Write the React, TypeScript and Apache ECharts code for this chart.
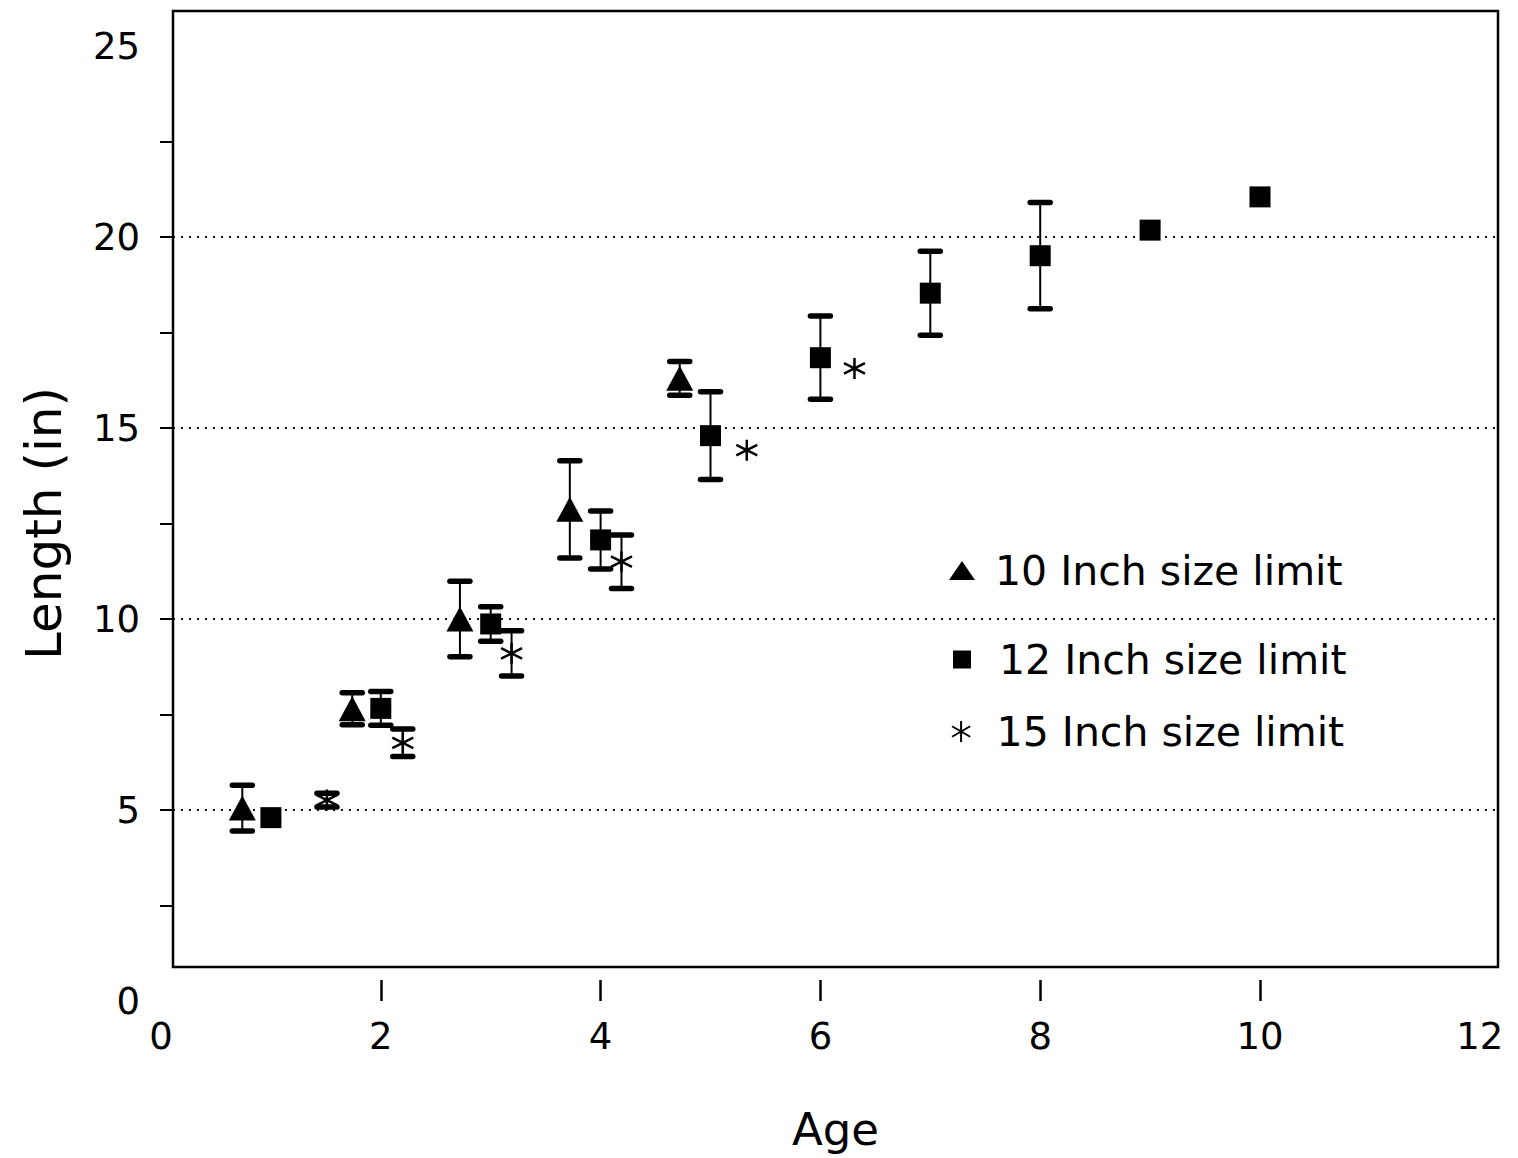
import React, { useEffect, useRef } from "react";
import * as echarts from "echarts";

// ---- data ----
const AGE_10 = [0.74, 1.74, 2.72, 3.72, 4.72];
const LEN_10 = [5.05, 7.65, 10.0, 12.87, 16.3];
const ERR_10 = [0.6, 0.42, 0.99, 1.27, 0.44];

const AGE_12 = [1, 2, 3, 4, 5, 6, 7, 8, 9, 10];
const LEN_12 = [4.8, 7.66, 9.87, 12.07, 14.8, 16.84, 18.53, 19.51, 20.18, 21.05];
const ERR_12 = [0, 0.44, 0.45, 0.76, 1.15, 1.09, 1.1, 1.39, 0, 0];

const AGE_15 = [1.51, 2.2, 3.19, 4.19, 5.33, 6.31];
const LEN_15 = [5.26, 6.76, 9.1, 11.5, 14.42, 16.56];
const ERR_15 = [0.18, 0.36, 0.59, 0.7, 0, 0];

const SERIES_NAMES = ["10 Inch size limit", "12 Inch size limit", "15 Inch size limit"];
const X_TICK_MARKS = [2, 4, 6, 8, 10];
const Y_TICK_MARKS = [2.5, 5, 7.5, 10, 12.5, 15, 17.5, 20, 22.5];
const GRID_LINES = [5, 10, 15, 20];

// ---- layout ----
const W = 1518;
const H = 1158;
const PX_X0 = 161;
const PX_PER_X = 109.9;
const PX_Y0 = 1001;
const PX_PER_Y = 38.2;
const FRAME = { left: 173, right: 1498, top: 11, bottom: 967 };

const FONT = "DejaVu Sans";
const ASTERISK = "path://M0,-10L0,10M-8.66,-5L8.66,5M-8.66,5L8.66,-5";

function errData(xs: number[], ys: number[], es: number[]) {
  const out: number[][] = [];
  xs.forEach((x, i) => {
    if (es[i] > 0) out.push([x, ys[i] - es[i], ys[i] + es[i]]);
  });
  return out;
}

function errSeries(data: number[][]) {
  return {
    type: "custom",
    xAxisIndex: 0,
    yAxisIndex: 0,
    silent: true,
    z: 2,
    data,
    renderItem: (_p: any, api: any) => {
      const x = api.value(0);
      const top = api.coord([x, api.value(2)]);
      const bot = api.coord([x, api.value(1)]);
      const hw = 10;
      return {
        type: "group",
        children: [
          { type: "line", shape: { x1: top[0], y1: top[1], x2: bot[0], y2: bot[1] }, style: { stroke: "#000", lineWidth: 2 } },
          { type: "line", shape: { x1: top[0] - hw, y1: top[1], x2: top[0] + hw, y2: top[1] }, style: { stroke: "#000", lineWidth: 5.5, lineCap: "round" } },
          { type: "line", shape: { x1: bot[0] - hw, y1: bot[1], x2: bot[0] + hw, y2: bot[1] }, style: { stroke: "#000", lineWidth: 5.5, lineCap: "round" } },
        ],
      };
    },
  };
}

export default function App() {
  const ref = useRef<HTMLDivElement>(null);

  useEffect(() => {
    if (!ref.current) return;
    const chart = echarts.init(ref.current, undefined, { renderer: "svg" });

    const g1 = {
      left: FRAME.left,
      top: FRAME.top,
      width: FRAME.right - FRAME.left,
      height: FRAME.bottom - FRAME.top,
    };
    const g2 = {
      left: PX_X0,
      top: PX_Y0 - 25 * PX_PER_Y,
      width: 12 * PX_PER_X,
      height: 25 * PX_PER_Y,
    };

    const legendText = (pad: number) => ({
      fontFamily: FONT,
      fontSize: 41,
      color: "#000",
      padding: [0, 0, 0, pad],
    });

    const option: any = {
      animation: false,
      backgroundColor: "#fff",
      textStyle: { fontFamily: FONT, color: "#000" },
      grid: [
        { ...g1, show: true, borderColor: "#000", borderWidth: 2.5, backgroundColor: "transparent", containLabel: false },
        { ...g2, show: false, containLabel: false },
      ],
      xAxis: [
        {
          type: "value",
          gridIndex: 0,
          min: (FRAME.left - PX_X0) / PX_PER_X,
          max: (FRAME.right - PX_X0) / PX_PER_X,
          axisLine: { show: false },
          axisTick: { show: false },
          axisLabel: { show: false },
          splitLine: { show: false },
          name: "Age",
          nameLocation: "middle",
          nameGap: 140,
          nameTextStyle: { fontFamily: FONT, fontSize: 45, color: "#000" },
        },
        {
          type: "value",
          gridIndex: 1,
          min: 0,
          max: 12,
          interval: 2,
          axisLine: { show: false },
          axisTick: {
            show: true,
            inside: true,
            length: 21,
            customValues: X_TICK_MARKS,
            lineStyle: { color: "#000", width: 2.5 },
          },
          axisLabel: { show: true, fontFamily: FONT, fontSize: 37, color: "#000", margin: 17 },
          splitLine: { show: false },
        },
      ],
      yAxis: [
        {
          type: "value",
          gridIndex: 0,
          min: (PX_Y0 - FRAME.bottom) / PX_PER_Y,
          max: (PX_Y0 - FRAME.top) / PX_PER_Y,
          axisLine: { show: false },
          axisTick: {
            show: true,
            customValues: Y_TICK_MARKS,
            length: 13,
            lineStyle: { color: "#000", width: 2 },
          },
          axisLabel: { show: false },
          splitLine: { show: false },
        },
        {
          type: "value",
          gridIndex: 1,
          min: 0,
          max: 25,
          interval: 5,
          axisLine: { show: false },
          axisTick: { show: false },
          axisLabel: { show: true, fontFamily: FONT, fontSize: 37, color: "#000", margin: 21 },
          splitLine: { show: false },
          name: "Length (in)",
          nameLocation: "middle",
          nameGap: 92,
          nameRotate: 90,
          nameTextStyle: { fontFamily: FONT, fontSize: 50, color: "#000" },
        },
      ],
      legend: [
        {
          data: [SERIES_NAMES[0]],
          left: 944,
          top: 545,
          itemWidth: 26,
          itemHeight: 19,
          textStyle: legendText(15),
        },
        {
          data: [SERIES_NAMES[1]],
          left: 948,
          top: 634,
          itemWidth: 18,
          itemHeight: 18,
          textStyle: legendText(23),
        },
        {
          data: [SERIES_NAMES[2]],
          left: 946,
          top: 706,
          itemWidth: 21,
          itemHeight: 21,
          textStyle: legendText(20),
        },
      ],
      series: [
        errSeries(errData(AGE_10, LEN_10, ERR_10)),
        errSeries(errData(AGE_12, LEN_12, ERR_12)),
        errSeries(errData(AGE_15, LEN_15, ERR_15)),
        {
          name: SERIES_NAMES[0],
          type: "scatter",
          xAxisIndex: 0,
          yAxisIndex: 0,
          symbol: "triangle",
          symbolSize: [27, 25],
          itemStyle: { color: "#000", opacity: 1 },
          z: 3,
          data: AGE_10.map((x, i) => [x, LEN_10[i]]),
        },
        {
          name: SERIES_NAMES[1],
          type: "scatter",
          xAxisIndex: 0,
          yAxisIndex: 0,
          symbol: "rect",
          symbolSize: 21,
          itemStyle: { color: "#000", opacity: 1 },
          z: 3,
          data: AGE_12.map((x, i) => [x, LEN_12[i]]),
          markLine: {
            silent: true,
            symbol: ["none", "none"],
            label: { show: false },
            lineStyle: { color: "#111", type: [2, 6], width: 1.8 },
            data: GRID_LINES.map((v) => ({ yAxis: v })),
            z: 1,
          },
        },
        {
          name: SERIES_NAMES[2],
          type: "scatter",
          xAxisIndex: 0,
          yAxisIndex: 0,
          symbol: ASTERISK,
          symbolSize: 21,
          itemStyle: { color: "#000", borderColor: "#000", borderWidth: 2.5, opacity: 1 },
          z: 3,
          data: AGE_15.map((x, i) => [x, LEN_15[i]]),
        },
      ],
    };

    chart.setOption(option);
    return () => chart.dispose();
  }, []);

  return (
    <div
      ref={ref}
      style={{ position: "absolute", left: 0, top: 0, width: W, height: H, background: "#fff" }}
    />
  );
}
